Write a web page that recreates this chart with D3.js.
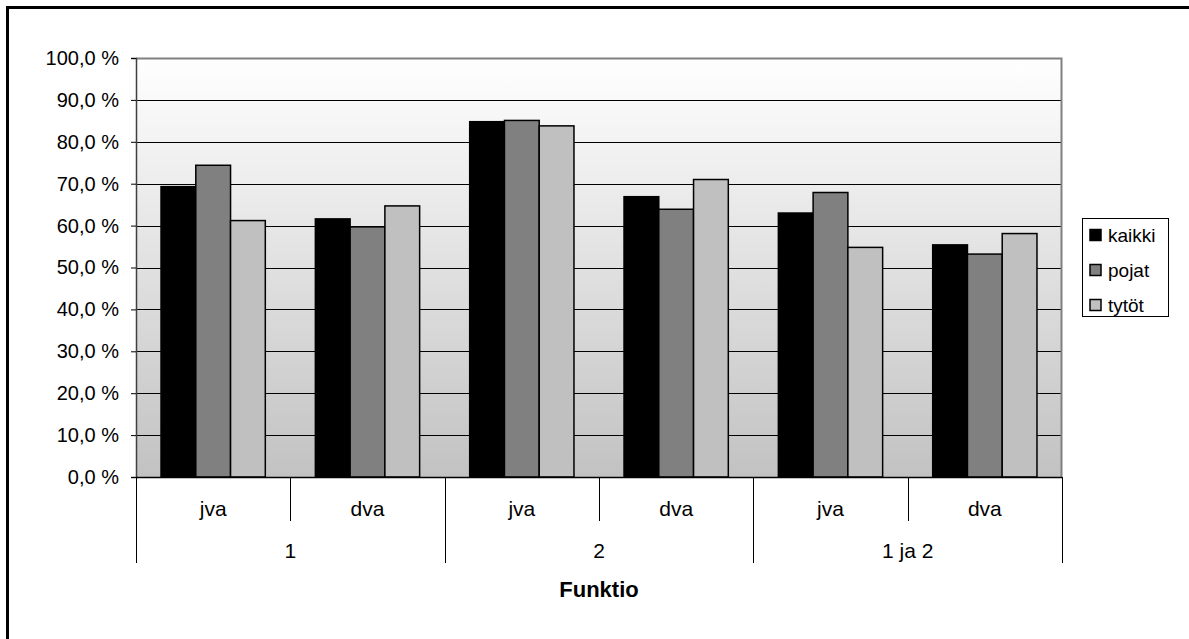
<!DOCTYPE html>
<html lang="fi">
<head>
  <meta charset="UTF-8" />
  <title>Funktio</title>
  <script src="https://d3js.org/d3.v7.min.js"></script>
  <style>
    html, body {
      margin: 0;
      background: #fff;
      font-family: Arial, "Liberation Sans", sans-serif;
    }
    svg { display: block; }
    .ylab { font-size: 20px; fill: #000; }
    .cat { font-size: 21px; fill: #000; }
    .title { font-size: 22px; font-weight: bold; }
    .leg { font-size: 19px; }
  </style>
</head>
<body>
  <svg id="chart" width="1189" height="639"></svg>
  <script>
    // data
    const groups = ["1", "2", "1 ja 2"];
    const subcats = ["jva", "dva"];
    const seriesNames = ["kaikki", "pojat", "tytöt"];
    const kaikki = [69.3, 61.6, 84.8, 66.9, 63.0, 55.4];
    const pojat = [74.4, 59.7, 85.1, 63.9, 67.9, 53.2];
    const tytot = [61.2, 64.7, 83.8, 71.0, 54.8, 58.1];
    const yTicks = [0, 10, 20, 30, 40, 50, 60, 70, 80, 90, 100];
    const xTitle = "Funktio";

    const colors = ["#000000", "#808080", "#c0c0c0"];
    const values = [kaikki, pojat, tytot];

    const svg = d3.select("#chart");
    const pLeft = 136, pRight = 1062, pTop = 58, pBottom = 477;

    // outer frame (right and bottom edges fall outside the picture)
    svg.append("rect")
      .attr("x", 7.5).attr("y", 7.5)
      .attr("width", 1200).attr("height", 700)
      .attr("fill", "#fff").attr("stroke", "#000").attr("stroke-width", 3);

    // plot background gradient
    const grad = svg.append("defs").append("linearGradient")
      .attr("id", "bg").attr("x1", 0).attr("y1", 0).attr("x2", 0).attr("y2", 1);
    grad.append("stop").attr("offset", "0%").attr("stop-color", "#ffffff");
    grad.append("stop").attr("offset", "100%").attr("stop-color", "#c2c2c2");

    svg.append("rect")
      .attr("x", pLeft).attr("y", pTop)
      .attr("width", pRight - pLeft).attr("height", pBottom - pTop)
      .attr("fill", "url(#bg)");

    const y = d3.scaleLinear().domain([0, 100]).range([pBottom, pTop]);

    const keys = [];
    groups.forEach(g => subcats.forEach(s => keys.push(g + "|" + s)));

    const x0 = d3.scaleBand().domain(keys).range([pLeft, pRight]).paddingInner(0).paddingOuter(0);
    const x1 = d3.scaleBand().domain(seriesNames).range([0, x0.bandwidth()])
      .paddingInner(0).paddingOuter(0.72);

    // gridlines
    svg.append("g").selectAll("line")
      .data(yTicks.filter(t => t > 0 && t < 100))
      .join("line")
      .attr("x1", pLeft).attr("x2", pRight)
      .attr("y1", d => Math.round(y(d)) + 0.5).attr("y2", d => Math.round(y(d)) + 0.5)
      .attr("stroke", "#000").attr("stroke-width", 1);

    // plot border top and right
    svg.append("path")
      .attr("d", `M${pLeft},${pTop + 0.5}H${pRight - 0.5}V${pBottom}`)
      .attr("fill", "none").attr("stroke", "#808080").attr("stroke-width", 2);

    // bars
    keys.forEach((k, i) => {
      const g = svg.append("g").attr("transform", `translate(${x0(k)},0)`);
      seriesNames.forEach((s, j) => {
        g.append("rect")
          .attr("x", x1(s))
          .attr("y", y(values[j][i]))
          .attr("width", x1.bandwidth())
          .attr("height", pBottom - y(values[j][i]))
          .attr("fill", colors[j])
          .attr("stroke", "#000").attr("stroke-width", 1.5);
      });
    });

    // y axis
    const yAxis = d3.axisLeft(y).tickValues(yTicks).tickSize(5).tickPadding(12)
      .tickFormat(d => d.toFixed(1).replace(".", ",") + " %");
    const ya = svg.append("g").attr("transform", `translate(${pLeft},0)`).call(yAxis);
    ya.attr("font-family", null).attr("font-size", null);
    ya.select(".domain").attr("stroke", "#404040").attr("stroke-width", 1.5);
    ya.selectAll(".tick line").attr("stroke", "#000");
    ya.selectAll(".tick text").attr("class", "ylab");

    // x axis baseline
    svg.append("line")
      .attr("x1", pLeft).attr("x2", pRight)
      .attr("y1", pBottom + 0.5).attr("y2", pBottom + 0.5)
      .attr("stroke", "#000").attr("stroke-width", 1.5);

    // category separators: short between subcats, long between groups
    const step = x0.step();
    d3.range(keys.length + 1).forEach(i => {
      const xx = Math.round(pLeft + i * step) + 0.5;
      const long = i % subcats.length === 0;
      svg.append("line")
        .attr("x1", xx).attr("x2", xx)
        .attr("y1", pBottom).attr("y2", long ? 563 : 521)
        .attr("stroke", "#000").attr("stroke-width", 1);
    });

    svg.append("g").selectAll("text")
      .data(keys).join("text")
      .attr("class", "cat")
      .attr("x", d => x0(d) + x0.bandwidth() / 2)
      .attr("y", 508)
      .attr("text-anchor", "middle").attr("dominant-baseline", "central")
      .text(d => d.split("|")[1]);

    svg.append("g").selectAll("text")
      .data(groups).join("text")
      .attr("class", "cat")
      .attr("x", g => x0(g + "|" + subcats[0]) + step * subcats.length / 2)
      .attr("y", 550)
      .attr("text-anchor", "middle").attr("dominant-baseline", "central")
      .text(g => g);

    svg.append("text")
      .attr("class", "title")
      .attr("x", (pLeft + pRight) / 2).attr("y", 589)
      .attr("text-anchor", "middle").attr("dominant-baseline", "central")
      .text(xTitle);

    // legend
    const leg = svg.append("g");
    leg.append("rect")
      .attr("x", 1082.5).attr("y", 218.5).attr("width", 86).attr("height", 98)
      .attr("fill", "#fff").attr("stroke", "#000").attr("stroke-width", 1);
    seriesNames.forEach((s, j) => {
      const cy = 235 + j * 35;
      leg.append("rect")
        .attr("x", 1090).attr("y", cy - 5.5).attr("width", 11).attr("height", 11)
        .attr("fill", colors[j]).attr("stroke", "#000").attr("stroke-width", 1.5);
      leg.append("text")
        .attr("class", "leg")
        .attr("x", 1108).attr("y", cy)
        .attr("dominant-baseline", "central")
        .text(s);
    });
  </script>
</body>
</html>
